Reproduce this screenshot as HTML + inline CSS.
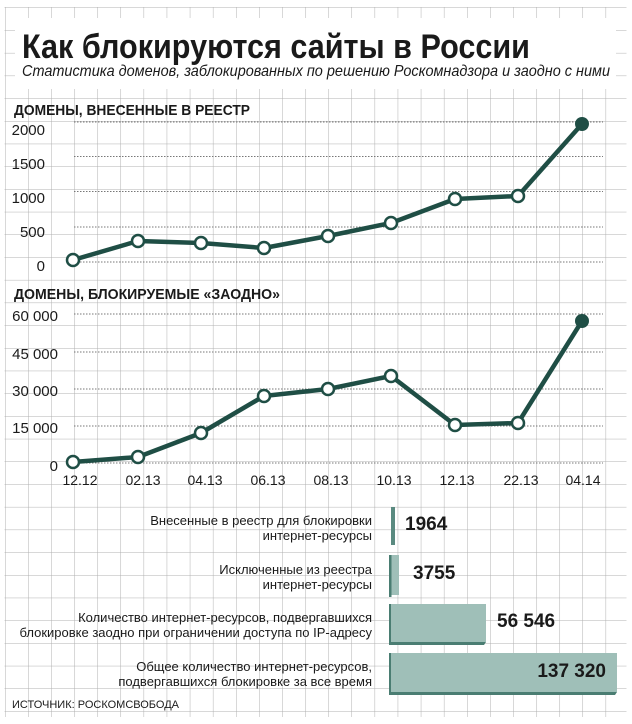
<!DOCTYPE html>
<html><head><meta charset="utf-8"><style>
html,body{margin:0;padding:0;background:#fff}
svg{display:block}
text{font-family:"Liberation Sans",sans-serif;fill:#1a1a1a}
</style></head><body>
<svg width="632" height="724" viewBox="0 0 632 724" xmlns="http://www.w3.org/2000/svg">
<defs>
<pattern id="g" x="5" y="7.5" width="23.1" height="22.7" patternUnits="userSpaceOnUse">
<path d="M0 0V22.7M0 0H23.1" stroke="#b0b0b0" stroke-width="1" fill="none"/>
</pattern>
</defs>
<rect x="4.5" y="7" width="622" height="710" fill="url(#g)"/>
<rect x="15" y="18" width="601" height="71" fill="#fff"/>
<text x="22" y="58" font-size="34" font-weight="bold" textLength="508" lengthAdjust="spacingAndGlyphs">Как блокируются сайты в России</text>
<text x="22" y="76" font-size="16" font-style="italic" textLength="588" lengthAdjust="spacingAndGlyphs">Статистика доменов, заблокированных по решению Роскомнадзора и заодно с ними</text>

<text x="14" y="115" font-size="15" font-weight="bold" textLength="236" lengthAdjust="spacingAndGlyphs">ДОМЕНЫ, ВНЕСЕННЫЕ В РЕЕСТР</text>
<g stroke="#777" stroke-width="1" stroke-dasharray="1.5,1.5">
<line x1="74" x2="603" y1="122" y2="122"/><line x1="74" x2="603" y1="156.5" y2="156.5"/><line x1="74" x2="603" y1="191.5" y2="191.5"/><line x1="74" x2="603" y1="227" y2="227"/><line x1="74" x2="603" y1="262" y2="262"/>
<line x1="74" x2="603" y1="314" y2="314"/><line x1="74" x2="603" y1="352" y2="352"/><line x1="74" x2="603" y1="389" y2="389"/><line x1="74" x2="603" y1="426" y2="426"/><line x1="74" x2="603" y1="463" y2="463"/>
</g>
<g font-size="15" text-anchor="end">
<text x="45" y="135">2000</text><text x="45" y="169">1500</text><text x="45" y="203">1000</text><text x="45" y="237">500</text><text x="45" y="271">0</text>
<text x="58" y="321">60 000</text><text x="58" y="359">45 000</text><text x="58" y="396">30 000</text><text x="58" y="433">15 000</text><text x="58" y="471">0</text>
</g>
<text x="14" y="299" font-size="15" font-weight="bold" textLength="266" lengthAdjust="spacingAndGlyphs">ДОМЕНЫ, БЛОКИРУЕМЫЕ «ЗАОДНО»</text>

<g stroke="#1f4e45" stroke-width="4.5" fill="none" stroke-linejoin="round">
<polyline points="73,260 138,241 201,243 264,248 328,236 391,223 455,199 518,196 582,124"/>
<polyline points="73,462 138,457 201,433 264,396 328,389 391,376 455,425 518,423 582,321"/>
</g>
<g fill="#fff" stroke="#1f4e45" stroke-width="2.5">
<circle cx="73" cy="260" r="6"/><circle cx="138" cy="241" r="6"/><circle cx="201" cy="243" r="6"/><circle cx="264" cy="248" r="6"/><circle cx="328" cy="236" r="6"/><circle cx="391" cy="223" r="6"/><circle cx="455" cy="199" r="6"/><circle cx="518" cy="196" r="6"/>
<circle cx="73" cy="462" r="6"/><circle cx="138" cy="457" r="6"/><circle cx="201" cy="433" r="6"/><circle cx="264" cy="396" r="6"/><circle cx="328" cy="389" r="6"/><circle cx="391" cy="376" r="6"/><circle cx="455" cy="425" r="6"/><circle cx="518" cy="423" r="6"/>
</g>
<circle cx="582" cy="124" r="7" fill="#1f4e45"/>
<circle cx="582" cy="321" r="7" fill="#1f4e45"/>
<g font-size="14" text-anchor="middle">
<text x="80" y="485">12.12</text><text x="143" y="485">02.13</text><text x="205" y="485">04.13</text><text x="268" y="485">06.13</text><text x="331" y="485">08.13</text><text x="394" y="485">10.13</text><text x="457" y="485">12.13</text><text x="521" y="485">22.13</text><text x="583" y="485">04.14</text>
</g>

<g>
<rect x="391" y="507" width="4" height="38" fill="#5a8a80"/>
<rect x="391" y="555" width="8" height="40" fill="#9fbfb8"/>
<rect x="389" y="555" width="2.5" height="42" fill="#4a7d72"/>
<rect x="391" y="604" width="95" height="38" fill="#9fbfb8"/>
<polygon points="389,604 391,604 391,642 486,642 484,645 389,645" fill="#4a7d72"/>
<rect x="391" y="653" width="226" height="39" fill="#9fbfb8"/>
<polygon points="389,653 391,653 391,692 617,692 615,695 389,695" fill="#4a7d72"/>
</g>
<g font-size="13" text-anchor="end">
<text x="372" y="525">Внесенные в реестр для блокировки</text>
<text x="372" y="540">интернет-ресурсы</text>
<text x="372" y="574">Исключенные из реестра</text>
<text x="372" y="589">интернет-ресурсы</text>
<text x="372" y="622">Количество интернет-ресурсов, подвергавшихся</text>
<text x="372" y="637">блокировке заодно при ограничении доступа по IP-адресу</text>
<text x="372" y="671">Общее количество интернет-ресурсов,</text>
<text x="372" y="686">подвергавшихся блокировке за все время</text>
</g>
<g font-size="19" font-weight="bold">
<text x="405" y="530">1964</text>
<text x="413" y="579">3755</text>
<text x="497" y="627">56 546</text>
<text x="606" y="677" text-anchor="end">137 320</text>
</g>
<text x="12" y="708" font-size="11">ИСТОЧНИК: РОСКОМСВОБОДА</text>
</svg>
</body></html>
